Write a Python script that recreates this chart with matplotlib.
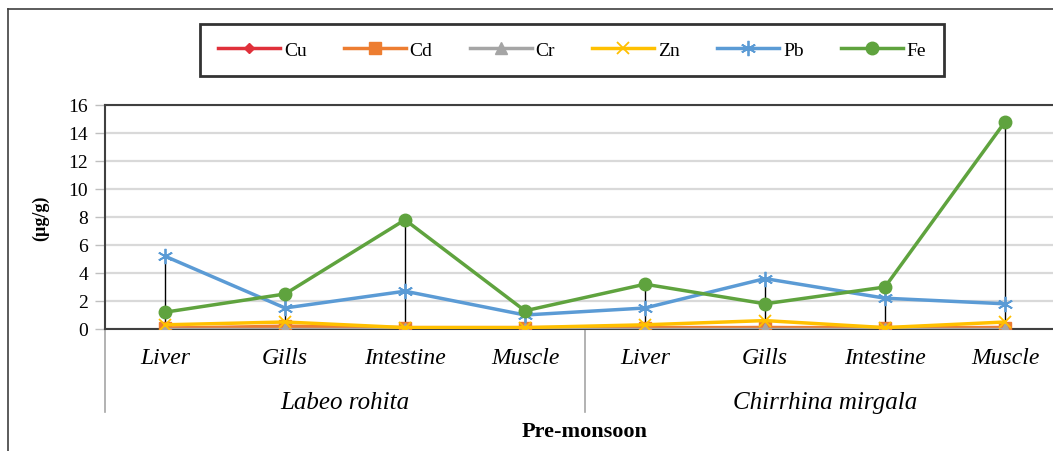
import matplotlib
matplotlib.use("Agg")
import matplotlib.pyplot as plt
from matplotlib.lines import Line2D
import numpy as np

organs = ["Liver", "Gills", "Intestine", "Muscle", "Liver", "Gills", "Intestine", "Muscle"]
species = ["Labeo rohita", "Chirrhina mirgala"]
yticks = [0, 2, 4, 6, 8, 10, 12, 14, 16]

cu = [0.05, 0.1, 0.05, 0.05, 0.05, 0.1, 0.05, 0.1]
cd = [0.05, 0.2, 0.1, 0.1, 0.1, 0.1, 0.1, 0.1]
cr = [0.02, 0.02, 0.02, 0.02, 0.02, 0.02, 0.02, 0.02]
zn = [0.3, 0.5, 0.1, 0.1, 0.3, 0.6, 0.1, 0.5]
pb = [5.2, 1.5, 2.7, 1.0, 1.5, 3.6, 2.2, 1.8]
fe = [1.2, 2.5, 7.8, 1.3, 3.2, 1.8, 3.0, 14.8]

series = [
    ("Cu", cu, "#E0303A", "D", 5),
    ("Cd", cd, "#ED7D31", "s", 8),
    ("Cr", cr, "#A5A5A5", "^", 8),
    ("Zn", zn, "#FFC000", "x", 8),
    ("Pb", pb, "#5B9BD5", (6, 2, 0), 11),
    ("Fe", fe, "#5FA33E", "o", 9),
]

plt.rcParams["font.family"] = ["Liberation Serif", "DejaVu Serif"]

fig = plt.figure(figsize=(10.53, 4.52), dpi=100)
W, H = 1053, 452
ax = fig.add_axes([105 / W, 1 - 330 / H, 960 / W, 224 / H])

x = np.arange(len(organs))
allv = np.array([cu, cd, cr, zn, pb, fe])
ax.vlines(x, allv.min(axis=0), allv.max(axis=0), color="black", lw=1.0, zorder=2)

for name, vals, col, mk, ms in series:
    ax.plot(x, vals, color=col, lw=2.5, marker=mk, markersize=ms,
            markeredgewidth=1.3 if mk in ("x", (6, 2, 0)) else 1,
            markeredgecolor=col, label=name, zorder=3)

ax.set_xlim(-0.5, 7.5)
ax.set_ylim(0, 16)
ax.set_yticks(yticks)
ax.set_yticklabels([str(v) for v in yticks], fontsize=14)
ax.yaxis.grid(True, color="#D9D9D9", lw=1.6)
ax.set_axisbelow(True)
ax.tick_params(axis="y", length=7, color="#BFBFBF", width=1, pad=5)
ax.tick_params(axis="x", length=0)
ax.set_xticks([])
for s in ["left", "top", "bottom"]:
    ax.spines[s].set_color("#404040")
    ax.spines[s].set_linewidth(1.5)
ax.spines["right"].set_visible(False)
ax.set_ylabel("(µg/g)", fontsize=13, fontweight="bold", labelpad=14)

tr = ax.get_xaxis_transform()
for i, o in enumerate(organs):
    ax.text(i, -0.125, o, transform=tr, ha="center", va="center",
            fontsize=17, style="italic")
for g, sp in enumerate(species):
    ax.text(1.5 + 4 * g, -0.325, sp, transform=tr, ha="center", va="center",
            fontsize=18, style="italic")
for xs in [-0.5, 3.5]:
    ax.plot([xs, xs], [0, -0.37], transform=tr, color="#A6A6A6", lw=1.2,
            clip_on=False)

fig.text(585 / W, 1 - 432 / H, "Pre-monsoon", ha="center", va="center",
         fontsize=16, fontweight="bold")

leg = fig.legend(loc="center", bbox_to_anchor=(572 / W, 1 - 51 / H), ncol=6,
                 fontsize=14, frameon=True, fancybox=False, edgecolor="black",
                 handlelength=3.2, columnspacing=1.9, handletextpad=0.2,
                 borderpad=0.9)
leg.get_frame().set_linewidth(2)

fig.add_artist(Line2D([8 / W, 8 / W], [0, 1 - 10 / H], color="#404040", lw=1.2))
fig.add_artist(Line2D([8 / W, 1], [1 - 10 / H, 1 - 10 / H], color="#404040", lw=1.2))

fig.savefig("out.png", dpi=100)
